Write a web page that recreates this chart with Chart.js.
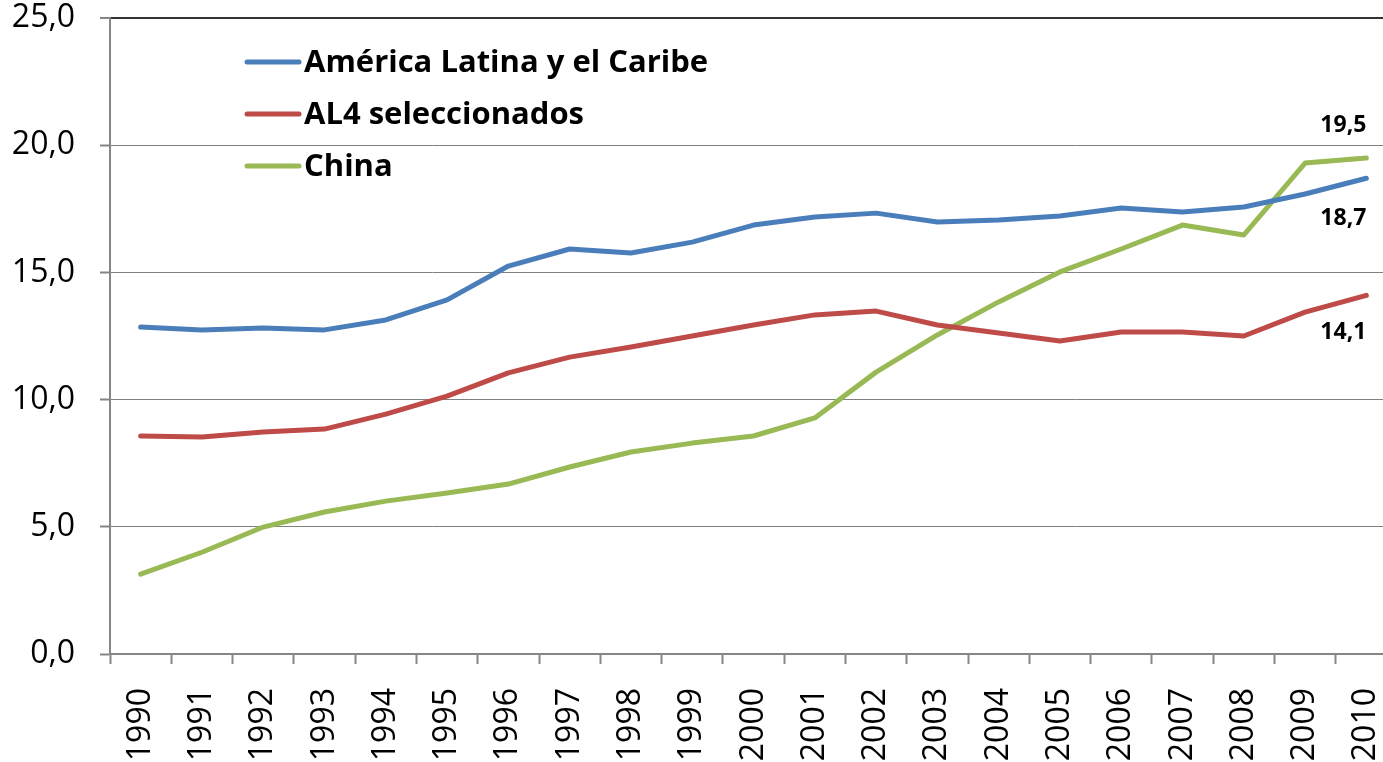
<!DOCTYPE html>
<html>
<head>
<meta charset="utf-8">
<script src="https://cdn.jsdelivr.net/npm/chart.js@4/dist/chart.umd.min.js"></script>
<style>
  html, body { margin: 0; padding: 0; background: #fff; overflow: hidden; }
  #wrap { position: relative; width: 1400px; height: 762px; }
</style>
</head>
<body>
<div id="wrap"><canvas id="c"></canvas></div>
<script>
const years = ['1990','1991','1992','1993','1994','1995','1996','1997','1998','1999','2000','2001','2002','2003','2004','2005','2006','2007','2008','2009','2010'];
const americaLatina = [12.85,12.74,12.81,12.74,13.13,13.92,15.25,15.92,15.76,16.19,16.86,17.18,17.33,16.98,17.06,17.22,17.53,17.37,17.57,18.08,18.7];
const al4 = [8.57,8.53,8.73,8.84,9.43,10.14,11.05,11.67,12.07,12.5,12.93,13.33,13.48,12.93,12.62,12.3,12.66,12.66,12.5,13.44,14.1];
const china = [3.14,4.0,4.99,5.58,6.01,6.33,6.68,7.35,7.94,8.29,8.57,9.28,11.08,12.54,13.84,15.02,15.92,16.86,16.47,19.3,19.5];
const seriesNames = ['América Latina y el Caribe','AL4 seleccionados','China'];
const yTicks = [0,5,10,15,20,25];

const colors = ['#4a7ebb','#be4b48','#98b954'];
const fmt = v => v.toFixed(1).replace('.', ',');

const legendPlugin = {
  id: 'innerLegend',
  afterDatasetsDraw(chart) {
    const ctx = chart.ctx;
    ctx.save();
    ctx.font = 'bold 31px "Open Sans"';
    ctx.textBaseline = 'middle';
    chart.data.datasets.forEach((ds, i) => {
      const y = 62 + i * 52;
      ctx.strokeStyle = ds.borderColor;
      ctx.lineWidth = 5;
      ctx.lineCap = 'round';
      ctx.beginPath();
      ctx.moveTo(247, y);
      ctx.lineTo(299, y);
      ctx.stroke();
      ctx.fillStyle = '#000';
      ctx.fillText(ds.label, 304, y + 1);
    });
    ctx.restore();
  }
};

const endLabelPlugin = {
  id: 'endLabels',
  afterDatasetsDraw(chart) {
    const ctx = chart.ctx;
    const offsets = [40, 37, -32];
    ctx.save();
    ctx.font = 'bold 23px "Open Sans"';
    ctx.fillStyle = '#000';
    ctx.textAlign = 'right';
    ctx.textBaseline = 'middle';
    chart.data.datasets.forEach((ds, i) => {
      const meta = chart.getDatasetMeta(i);
      const last = meta.data[meta.data.length - 1];
      const v = ds.data[ds.data.length - 1];
      ctx.fillText(fmt(v), last.x, last.y + offsets[i]);
    });
    ctx.restore();
  }
};

function zeroPad(s) { s.paddingLeft = 0; s.paddingRight = 0; s.paddingTop = 0; s.paddingBottom = 0; }

new Chart(document.getElementById('c'), {
  type: 'line',
  data: {
    labels: years,
    datasets: [americaLatina, al4, china].map((d, i) => ({
      label: seriesNames[i],
      data: d,
      borderColor: colors[i],
      backgroundColor: colors[i],
      borderWidth: 5,
      pointRadius: 0,
      tension: 0,
      borderCapStyle: 'round',
      borderJoinStyle: 'round'
    }))
  },
  options: {
    responsive: true,
    maintainAspectRatio: false,
    animation: false,
    layout: { padding: { top: 18, right: 3, left: 0, bottom: 0 } },
    plugins: { legend: { display: false }, tooltip: { enabled: false } },
    scales: {
      x: {
        offset: true,
        afterFit: s => { s.height = 108; zeroPad(s); },
        grid: {
          offset: true,
          drawOnChartArea: false,
          drawTicks: true,
          tickLength: 10,
          tickColor: '#868686',
          tickWidth: 2,
          color: '#868686'
        },
        border: { color: '#868686', width: 2 },
        ticks: {
          minRotation: 90,
          maxRotation: 90,
          autoSkip: false,
          padding: 24,
          color: '#000',
          font: { family: '"Open Sans"', size: 32 }
        }
      },
      y: {
        min: 0,
        max: 25,
        afterFit: s => { s.width = 110; zeroPad(s); },
        afterBuildTicks: s => { s.ticks = yTicks.map(v => ({ value: v })); },
        grid: {
          color: c => (c.tick && c.tick.value === 25) ? '#333333' : '#808080',
          lineWidth: c => (c.tick && c.tick.value === 25) ? 2 : 1,
          borderDash: [1, 2],
          tickBorderDash: [],
          drawTicks: true,
          tickLength: 10,
          tickColor: '#868686',
          tickWidth: 2
        },
        border: { color: '#868686', width: 2 },
        ticks: {
          padding: 25,
          color: '#000',
          font: { family: '"Open Sans"', size: 32 },
          callback: v => fmt(v)
        }
      }
    }
  },
  plugins: [legendPlugin, endLabelPlugin]
});
</script>
</body>
</html>
